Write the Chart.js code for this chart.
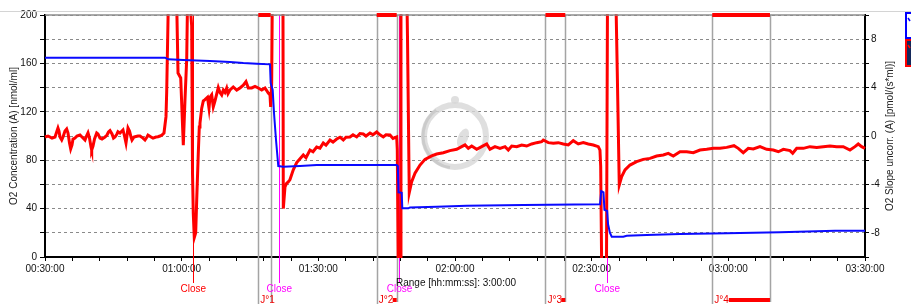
<!DOCTYPE html>
<html><head><meta charset="utf-8">
<script src="https://cdn.jsdelivr.net/npm/chart.js@4/dist/chart.umd.min.js"></script>
<style>html,body{margin:0;padding:0;background:#fff;overflow:hidden}canvas{display:block}</style>
</head><body>
<div style="width:911px;height:304px"><canvas id="c" width="911" height="304"></canvas></div>
<script>
// ---- data (time in minutes, value) ----
const concSeries = [[30,164.7],[53.05,164.7],[56.34,164.7],[57.07,163.4],[60.36,162.8],[66.22,162.0],[70.61,161.2],[73.53,160.3],[76.47,159.8],[79.39,159.2],[79.54,143.8],[79.98,138.0],[80.27,119.0],[80.71,96.7],[81.21,75.2],[82.31,74.6],[85.98,75.2],[89.64,76.0],[96.95,76.0],[107.2,76.0],[107.45,75.0],[107.6,53.5],[108.3,53.1],[108.43,40.2],[109.75,40.2],[110.12,41.0],[115.98,41.6],[122.57,42.4],[134.99,43.0],[151.83,43.5],[152.1,54.5],[152.6,53.5],[152.8,39.0],[153.4,38.0],[153.6,27.0],[154.0,20.0],[154.4,16.8],[156.94,16.8],[157.69,17.6],[162.08,18.2],[169.39,19.0],[179.64,19.6],[191.34,20.4],[203.41,21.7],[210,21.7]];
const slopeSeries = [[30.00,-0.08],[30.66,0.00],[31.54,-0.17],[32.20,-0.08],[32.63,0.41],[32.85,0.66],[33.07,0.41],[33.29,-0.08],[33.67,-0.33],[33.95,-0.08],[34.39,0.41],[34.76,0.58],[35.05,0.25],[35.38,-0.58],[35.64,-1.07],[35.93,-0.74],[36.15,-0.25],[36.59,-0.17],[37.02,0.00],[37.68,0.08],[38.12,-0.08],[38.78,-0.33],[39.11,0.00],[39.44,0.27],[39.77,-0.17],[40.10,-0.91],[40.25,-1.16],[40.54,-0.83],[40.87,-0.25],[41.35,0.25],[41.63,0.17],[42.07,-0.17],[42.51,-0.25],[43.17,-0.08],[43.61,0.08],[43.94,0.33],[44.27,0.44],[44.71,0.17],[45.04,-0.17],[45.37,-0.08],[45.80,0.17],[46.02,0.36],[46.46,0.25],[47.12,0.50],[47.45,0.00],[47.78,-0.58],[47.99,0.00],[48.22,0.66],[48.55,0.41],[48.88,-0.08],[49.10,-0.33],[49.54,-0.08],[49.76,-0.06],[50.41,0.00],[50.85,0.00],[51.51,-0.17],[51.95,-0.33],[52.39,-0.08],[52.61,0.08],[53.27,-0.08],[53.71,-0.17],[54.37,-0.08],[54.80,-0.06],[55.24,0.00],[55.68,0.08],[56.12,0.25],[56.56,1.6],[56.71,3.6],[57.07,11],[58.91,11],[59.20,5.2],[59.79,4.8],[60.36,-0.75],[60.73,3.0],[61.11,6.4],[61.28,11],[61.83,11],[62.20,9.1],[62.38,-3.1],[62.55,-6.4],[62.77,-8.4],[63.08,-8.0],[63.30,-5.3],[63.65,-1.4],[63.87,0.74],[64.02,1.07],[64.40,2.3],[64.75,2.9],[65.12,3.0],[65.67,3.2],[66.00,2.3],[66.22,3.2],[66.59,3.4],[66.94,2.4],[67.32,2.9],[68.04,4.0],[68.41,3.6],[68.79,3.4],[69.14,3.8],[69.51,3.6],[69.88,3.96],[70.17,3.5],[70.61,3.8],[71.33,4.05],[72.08,3.8],[72.80,3.97],[73.53,4.2],[74.12,4.5],[74.63,3.97],[75.37,3.97],[76.10,4.1],[76.82,3.97],[77.57,3.8],[78.29,3.97],[79.02,3.55],[79.39,3.4],[79.54,2.4],[79.76,4.4],[79.89,11],[82.24,11],[82.31,-6.0],[82.68,-4.2],[83.05,-3.9],[83.40,-3.8],[83.78,-3.6],[84.50,-2.8],[85.25,-2.2],[86.70,-1.57],[87.29,-1.8],[88.17,-1.16],[88.83,-1.3],[89.64,-0.91],[90.36,-1.0],[91.09,-0.58],[91.68,-0.75],[92.56,-0.33],[93.22,-0.5],[94.03,-0.25],[94.76,-0.1],[95.48,-0.33],[96.07,-0.1],[96.95,-0.08],[97.61,0.1],[98.42,-0.08],[99.14,0.2],[99.87,0.17],[100.46,0.0],[101.34,0.25],[102.00,0.1],[102.81,0.33],[103.53,0.1],[104.26,-0.08],[104.85,0.1],[105.73,0.08],[106.39,-0.2],[107.20,-0.08],[107.33,-1.16],[107.55,-11],[108.03,-11],[108.14,11],[109.46,11],[109.57,8.2],[109.96,-4.68],[110.49,-3.78],[111.22,-3.08],[112.32,-2.4],[113.41,-1.93],[114.88,-1.65],[115.98,-1.49],[117.43,-1.38],[118.90,-1.21],[120.37,-1.1],[121.47,-0.88],[122.20,-0.74],[122.92,-1.02],[123.67,-0.83],[124.76,-1.1],[125.86,-0.88],[126.96,-0.66],[127.68,-1.1],[128.78,-0.88],[129.88,-1.02],[130.98,-0.88],[131.70,-1.16],[132.45,-0.83],[133.54,-0.88],[134.64,-0.74],[135.74,-0.83],[136.83,-0.66],[137.93,-0.55],[139.03,-0.47],[139.38,-0.33],[140.48,-0.55],[141.58,-0.6],[142.67,-0.55],[143.77,-0.66],[144.87,-0.74],[145.96,-0.39],[147.06,-0.66],[148.16,-0.55],[149.26,-0.66],[150.35,-0.74],[151.45,-0.88],[151.82,-1.16],[151.98,-2.5],[152.20,-11],[153.25,-11],[153.47,11],[155.34,11],[155.62,5.3],[156.06,-4.05],[156.59,-3.36],[157.32,-2.8],[158.41,-2.4],[159.88,-2.12],[161.33,-1.93],[162.80,-1.85],[164.27,-1.65],[165.72,-1.57],[166.82,-1.43],[167.92,-1.65],[169.39,-1.3],[170.86,-1.3],[172.31,-1.38],[173.78,-1.16],[175.25,-1.1],[176.70,-1.02],[178.17,-1.02],[179.64,-0.94],[181.24,-0.8],[182.18,-1.02],[183.28,-1.38],[184.38,-1.02],[185.48,-1.07],[186.95,-0.88],[188.42,-1.1],[189.87,-1.16],[190.97,-1.3],[192.07,-1.1],[193.54,-1.21],[194.13,-1.43],[195.01,-1.02],[196.46,-1.02],[197.92,-0.88],[199.40,-0.94],[200.84,-0.88],[202.31,-0.83],[203.78,-0.88],[205.23,-0.88],[206.70,-1.16],[207.80,-0.88],[208.52,-0.66],[209.27,-0.88],[210.00,-1.02]];

const closeTimesRed = [62.55];
const closeTimesMagenta = [81.43, 107.81, 153.42];
const closeText = 'Close';
const markNames = ['J°1', 'J°2', 'J°3', 'J°4'];
const markStart = [76.82, 102.81, 139.86, 176.47];
const markEnd = [79.54, 107.20, 144.21, 189.14];
const leftTitle = 'O2 Concentration (A) [nmol/ml]';
const rightTitle = 'O2 Slope uncorr. (A) [pmol/(s*ml)]';
const rangePrefix = 'Range [hh:mm:ss]: ';
const timeMin = 30, timeMax = 210;

function pad(n){return (n<10?'0':'')+n;}
function fmtTime(m, padH){const s=Math.round(m*60);const h=Math.floor(s/3600),mm=Math.floor((s%3600)/60),ss=s%60;return (padH?pad(h):h)+':'+pad(mm)+':'+pad(ss);}

const FONT = '"Liberation Sans", Arial, sans-serif';
Chart.defaults.font.family = FONT;
Chart.defaults.color = '#111';

const decor = {
  id: 'decor',
  beforeDatasetsDraw(chart){
    const {ctx, chartArea:a, scales:{x}} = chart;
    ctx.save();
    // watermark
    const cx=(a.left+a.right)/2, cy=(a.top+a.bottom)/2;
    ctx.strokeStyle='rgba(215,215,215,0.8)'; ctx.lineWidth=6;
    ctx.beginPath(); ctx.arc(cx,cy,31,0,Math.PI*2); ctx.stroke();
    ctx.strokeStyle='rgba(190,190,190,0.6)'; ctx.lineWidth=3;
    ctx.beginPath(); ctx.arc(cx,cy,32,Math.PI*0.55,Math.PI*1.3); ctx.stroke();
    ctx.fillStyle='rgba(215,215,215,0.8)';
    ctx.beginPath(); ctx.arc(cx,cy-36,4,0,Math.PI*2); ctx.fill();
    ctx.beginPath(); ctx.ellipse(cx+8,cy+2,5,10,0.4,0,Math.PI*2); ctx.fill();
    // mark lines
    ctx.strokeStyle='#a4a4a4'; ctx.lineWidth=1.5;
    for(let i=0;i<markStart.length;i++){
      const xs=Math.round(x.getPixelForValue(markStart[i]))+0.5, xe=Math.round(x.getPixelForValue(markEnd[i]))+0.5;
      ctx.beginPath(); ctx.moveTo(xs,a.top); ctx.lineTo(xs,304); ctx.stroke();
      ctx.beginPath(); ctx.moveTo(xe,a.top); ctx.lineTo(xe,302); ctx.stroke();
    }
    // close lines
    ctx.lineWidth=1;
    const cl=(t,c)=>{const px=Math.round(x.getPixelForValue(t))+0.5;ctx.strokeStyle=c;ctx.beginPath();ctx.moveTo(px,a.top);ctx.lineTo(px,283);ctx.stroke();};
    closeTimesRed.forEach(t=>cl(t,'#ff0000'));
    closeTimesMagenta.forEach(t=>cl(t,'#ff00ff'));
    ctx.restore();
  },
  afterDraw(chart){
    const {ctx, chartArea:a, scales:{x}} = chart;
    ctx.save();
    // top frame & outer light line
    ctx.strokeStyle='#d4d4d4'; ctx.lineWidth=1;
    ctx.beginPath(); ctx.moveTo(0,11.5); ctx.lineTo(911,11.5); ctx.stroke();
    ctx.strokeStyle='#8c8c8c'; ctx.lineWidth=1.5;
    ctx.beginPath(); ctx.moveTo(a.left,a.top); ctx.lineTo(a.right,a.top); ctx.stroke();
    // red bars at top
    ctx.strokeStyle='#ff0000'; ctx.lineWidth=4;
    for(let i=0;i<markStart.length;i++){
      const xs=x.getPixelForValue(markStart[i]), xe=x.getPixelForValue(markEnd[i]);
      ctx.beginPath(); ctx.moveTo(xs,a.top); ctx.lineTo(xe,a.top); ctx.stroke();
    }
    // close labels
    ctx.font='10px '+FONT; ctx.textAlign='center'; ctx.textBaseline='middle';
    ctx.fillStyle='#ff0000';
    closeTimesRed.forEach(t=>ctx.fillText(closeText, x.getPixelForValue(t), 289));
    ctx.fillStyle='#ff00ff';
    closeTimesMagenta.forEach(t=>ctx.fillText(closeText, x.getPixelForValue(t), 289));
    // mark labels + bottom bars
    ctx.textAlign='left'; ctx.textBaseline='alphabetic';
    for(let i=0;i<markStart.length;i++){
      const xs=x.getPixelForValue(markStart[i]), xe=x.getPixelForValue(markEnd[i]);
      ctx.fillStyle='#ee0000';
      ctx.fillText(markNames[i], xs+2, 303);
      const tw=ctx.measureText(markNames[i]).width;
      const b0=xs+2+tw;
      if(b0<xe){
        ctx.strokeStyle='#ff0000'; ctx.lineWidth=4;
        ctx.beginPath(); ctx.moveTo(Math.min(b0,xe-4),300); ctx.lineTo(xe,300); ctx.stroke();
      }
    }
    // range text
    ctx.fillStyle='#111'; ctx.textBaseline='middle';
    ctx.fillText(rangePrefix + fmtTime(timeMax-timeMin,false), 396, 283);
    // axis titles
    ctx.fillStyle='#222'; ctx.textAlign='center';
    ctx.save(); ctx.translate(14,(a.top+a.bottom)/2); ctx.rotate(-Math.PI/2); ctx.fillText(leftTitle,0,0); ctx.restore();
    ctx.save(); ctx.translate(890,(a.top+a.bottom)/2); ctx.rotate(-Math.PI/2); ctx.fillText(rightTitle,0,0); ctx.restore();
    // legend boxes
    ctx.fillStyle='#fff'; ctx.strokeStyle='#0000ff'; ctx.lineWidth=2;
    ctx.fillRect(906,13,8,25); ctx.strokeRect(906,13,8,25);
    ctx.strokeStyle='#0000ff'; ctx.lineWidth=1.5;
    ctx.beginPath(); ctx.moveTo(908,18); ctx.lineTo(910,21); ctx.stroke();
    ctx.fillStyle='#14285a'; ctx.strokeStyle='#ff0000'; ctx.lineWidth=2;
    ctx.fillRect(906,40,8,26); ctx.strokeRect(906,40,8,26);
    ctx.strokeStyle='#ff0000'; ctx.lineWidth=1.5;
    ctx.beginPath(); ctx.moveTo(908,45); ctx.lineTo(910,48); ctx.stroke();
    ctx.restore();
  }
};

new Chart(document.getElementById('c'), {
  type: 'line',
  data: {
    datasets: [
      {label:'O2 Concentration (A)', data: concSeries.map(p=>({x:p[0],y:p[1]})), yAxisID:'y', borderColor:'#0a0aff', borderWidth:2, pointRadius:0, tension:0, clip:1},
      {label:'O2 Slope uncorr. (A)', data: slopeSeries.map(p=>({x:p[0],y:p[1]})), yAxisID:'y1', borderColor:'#ff0000', borderWidth:3, pointRadius:0, tension:0, clip:1}
    ]
  },
  plugins: [decor],
  options: {
    responsive:false, devicePixelRatio:1, animation:false,
    layout:{padding:{top:15,left:0,right:0,bottom:0}},
    plugins:{legend:{display:false}, tooltip:{enabled:false}},
    scales:{
      x:{type:'linear', min:timeMin, max:timeMax,
        afterFit:s=>{s.height=47;},
        ticks:{stepSize:6, autoSkip:false, maxRotation:0, minRotation:0, padding:2, font:{size:10}, color:'#111',
          callback:v=> (Math.abs(v%30)<1e-6 ? fmtTime(v,true) : '')},
        grid:{drawOnChartArea:false, tickLength:4, tickColor:'#000'},
        border:{color:'#000', width:2}},
      y:{position:'left', min:0, max:200,
        afterFit:s=>{s.width=45;},
        ticks:{stepSize:20, padding:3, font:{size:10}, color:'#111', callback:v=>(v%40===0? String(v):'')},
        grid:{color:'#8a8a8a', tickColor:'#000', tickLength:5, lineWidth:1},
        border:{color:'#000', width:2, dash:[3,3]}},
      y1:{position:'right', min:-10, max:10,
        afterFit:s=>{s.width=46;},
        ticks:{stepSize:2, padding:2, font:{size:10}, color:'#111', callback:v=>(v%4===0? String(v):'')},
        grid:{drawOnChartArea:false, tickColor:'#000', tickLength:4},
        border:{color:'#000', width:2}}
    }
  }
});
</script>
</body></html>
